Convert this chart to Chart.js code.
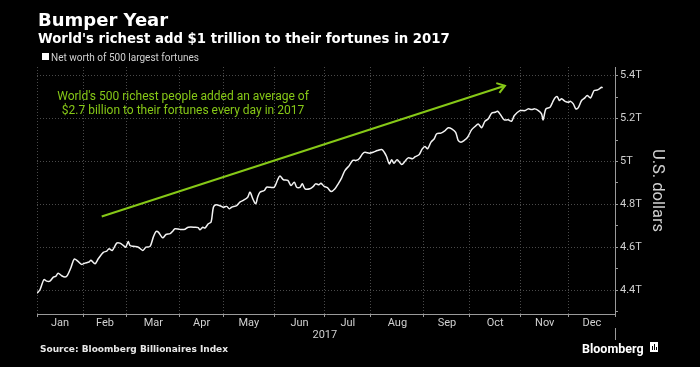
<!DOCTYPE html>
<html>
<head>
<meta charset="utf-8">
<script src="https://cdn.jsdelivr.net/npm/chart.js@4.4.0/dist/chart.umd.min.js"></script>
<style>
  html, body { margin: 0; padding: 0; background: #000; }
  #wrap { width: 700px; height: 367px; }
</style>
</head>
<body>
<div id="wrap"><canvas id="worthChart"></canvas></div>
<script>
// trading day of 2017 (0 = first trading day of Jan) and net worth in trillions USD
var tradingDay = [0, 1.3, 3.0, 4.2, 5.6, 7.1, 8.1, 9.2, 10.7, 12.2, 13.2, 14.8, 16.2, 17.7, 19.4, 20.8, 22.6, 23.4, 25.2, 26.6,
  28.8, 30.3, 31.3, 32.7, 34.6, 36.0, 37.5, 38.5, 39.6, 40.4, 41.8, 44.0, 45.9, 47.3, 49.1, 50.5, 51.7, 52.7, 54.6, 56.0,
  57.8, 59.2, 59.9, 62.1, 64.3, 65.7, 68.6, 70.0, 70.8, 72.0, 72.9, 74.4, 75.6, 76.6, 77.7, 79.5, 80.9, 82.4, 83.5, 84.5,
  86.7, 88.1, 89.6, 91.5, 92.5, 93.9, 95.0, 95.8, 96.8, 98.7, 99.7, 101.2, 103.0, 104.5, 105.5, 107.0, 108.9, 110.3, 111.7, 112.8,
  114.2, 115.2, 116.4, 118.5, 120.0, 121.0, 122.4, 123.3, 124.7, 126.1, 127.7, 129.4, 130.8, 132.3, 133.7, 135.6, 137.1, 138.5, 139.9, 141.4,
  142.4, 144.3, 146.0, 147.8, 149.7, 150.8, 151.8, 153.0, 154.0, 155.0, 156.4, 158.4, 159.8, 161.2, 163.1, 164.1, 166.0, 167.3, 168.5, 169.6,
  171.1, 172.5, 173.6, 175.4, 176.9, 178.6, 180.1, 181.8, 182.9, 184.1, 185.5, 187.0, 188.7, 190.2, 191.6, 193.1, 194.5, 196.0, 197.4, 198.9,
  200.0, 201.5, 202.9, 204.6, 206.1, 207.3, 209.7, 211.9, 213.3, 214.8, 216.2, 217.7, 219.1, 219.8, 221.0, 222.8, 223.9, 224.9, 225.9, 226.8,
  227.8, 229.3, 230.7, 231.7, 232.9, 234.0, 235.0, 236.5, 237.9, 238.9, 240.4, 241.9, 243.3, 244.2, 245.2, 245.6];

var netWorth = [4.387, 4.403, 4.450, 4.443, 4.443, 4.462, 4.465, 4.480, 4.468, 4.462, 4.470, 4.508, 4.546, 4.536, 4.521, 4.527, 4.532, 4.540, 4.524, 4.547,
  4.577, 4.583, 4.594, 4.586, 4.620, 4.620, 4.609, 4.601, 4.627, 4.609, 4.605, 4.601, 4.586, 4.601, 4.605, 4.648, 4.674, 4.671, 4.645, 4.660,
  4.664, 4.679, 4.687, 4.684, 4.685, 4.694, 4.694, 4.692, 4.682, 4.694, 4.690, 4.710, 4.718, 4.787, 4.799, 4.794, 4.787, 4.791, 4.780, 4.787,
  4.795, 4.811, 4.819, 4.834, 4.857, 4.822, 4.803, 4.834, 4.857, 4.865, 4.880, 4.880, 4.880, 4.915, 4.932, 4.915, 4.912, 4.888, 4.904, 4.880,
  4.880, 4.896, 4.873, 4.873, 4.884, 4.896, 4.892, 4.899, 4.884, 4.878, 4.860, 4.873, 4.896, 4.924, 4.958, 4.981, 5.005, 5.005, 5.013, 5.036,
  5.043, 5.039, 5.043, 5.051, 5.056, 5.043, 5.023, 4.989, 5.008, 4.992, 5.008, 4.986, 5.001, 5.017, 5.013, 5.021, 5.033, 5.059, 5.070, 5.059,
  5.090, 5.106, 5.129, 5.132, 5.141, 5.157, 5.152, 5.136, 5.098, 5.090, 5.098, 5.113, 5.147, 5.163, 5.175, 5.157, 5.187, 5.199, 5.225, 5.229,
  5.234, 5.214, 5.194, 5.194, 5.188, 5.214, 5.237, 5.237, 5.245, 5.242, 5.245, 5.237, 5.222, 5.194, 5.245, 5.253, 5.276, 5.296, 5.302, 5.284,
  5.292, 5.280, 5.276, 5.280, 5.268, 5.245, 5.250, 5.284, 5.296, 5.307, 5.296, 5.330, 5.333, 5.338, 5.346, 5.343];

// month boundaries in trading days, and month names
var monthStarts = [0, 20, 39, 62, 81, 103, 125, 145, 168, 188, 210, 231, 251];
var monthLabels = ['Jan', 'Feb', 'Mar', 'Apr', 'May', 'Jun', 'Jul', 'Aug', 'Sep', 'Oct', 'Nov', 'Dec'];

// y ticks (trillions), labels only on every other one
var yTicks = [4.3, 4.4, 4.5, 4.6, 4.7, 4.8, 4.9, 5.0, 5.1, 5.2, 5.3, 5.4];

// trend arrow, start and end
var arrowDay = [28.1, 203.2];
var arrowWorth = [4.744, 5.353];

var green = '#86c817';
var gridCol = '#4a4a4a';
var axisCol = '#9a9a9a';
var textCol = '#d0d0d0';
var narrow = '"Liberation Sans Narrow", Roboto, sans-serif';

var isMajorY = function (v) { return Math.round(v * 10) % 2 === 0; };
var isBoundary = function (v) { return monthStarts.indexOf(v) !== -1; };

var points = tradingDay.map(function (d, i) { return { x: d, y: netWorth[i] }; });
var arrowPts = arrowDay.map(function (d, i) { return { x: d, y: arrowWorth[i] }; });

var textPlugin = {
  id: 'bbgText',
  afterDraw: function (chart) {
    var ctx = chart.ctx;
    var area = chart.chartArea;
    ctx.save();
    ctx.textBaseline = 'alphabetic';
    ctx.textAlign = 'left';

    ctx.fillStyle = '#fff';
    ctx.font = 'bold 18px "DejaVu Sans"';
    ctx.fillText('Bumper Year', 38, 26);
    ctx.font = 'bold 13.3px "DejaVu Sans"';
    ctx.fillText("World's richest add $1 trillion to their fortunes in 2017", 38, 43);

    // legend
    ctx.fillRect(42, 53, 7, 7);
    ctx.fillStyle = textCol;
    ctx.font = '10px ' + narrow;
    ctx.fillText('Net worth of 500 largest fortunes', 51, 61);

    // annotation
    ctx.fillStyle = green;
    ctx.font = '12px ' + narrow;
    ctx.textAlign = 'center';
    ctx.fillText("World's 500 richest people added an average of", 183, 100);
    ctx.fillText('$2.7 billion to their fortunes every day in 2017', 183, 114);

    // year under axis
    var xs = chart.scales.x;
    ctx.fillStyle = textCol;
    ctx.font = '11px ' + narrow;
    ctx.fillText('2017', xs.getPixelForValue(monthStarts[6]), 338);

    // footer
    ctx.textAlign = 'left';
    ctx.fillStyle = '#e8e8e8';
    ctx.font = 'bold 9px "DejaVu Sans"';
    ctx.fillText('Source: Bloomberg Billionaires Index', 40, 352);

    ctx.fillStyle = '#fff';
    ctx.font = 'bold 12.5px ' + narrow;
    ctx.fillText('Bloomberg', 582, 353);
    ctx.fillRect(650, 342, 8, 10);
    ctx.fillStyle = '#000';
    ctx.fillRect(652, 346, 1, 4);
    ctx.fillRect(654, 344, 1, 6);
    ctx.fillRect(656, 347, 1, 3);

    ctx.strokeStyle = axisCol;
    ctx.lineWidth = 1;
    ctx.beginPath();
    ctx.moveTo(area.right + 0.5, 328);
    ctx.lineTo(area.right + 0.5, 340);
    ctx.stroke();

    // arrow head on the trend line
    var meta = chart.getDatasetMeta(1);
    var p0 = meta.data[0], p1 = meta.data[1];
    var ang = Math.atan2(p1.y - p0.y, p1.x - p0.x);
    ctx.strokeStyle = green;
    ctx.lineWidth = 2;
    ctx.beginPath();
    ctx.moveTo(p1.x - 9 * Math.cos(ang - 0.6), p1.y - 9 * Math.sin(ang - 0.6));
    ctx.lineTo(p1.x, p1.y);
    ctx.lineTo(p1.x - 9 * Math.cos(ang + 0.6), p1.y - 9 * Math.sin(ang + 0.6));
    ctx.stroke();
    ctx.restore();
  }
};

new Chart(document.getElementById('worthChart'), {
  type: 'line',
  data: {
    datasets: [{
      label: 'Net worth of 500 largest fortunes',
      data: points,
      borderColor: '#f2f2f2',
      borderWidth: 1.5,
      pointRadius: 0,
      tension: 0.3
    }, {
      label: 'trend',
      data: arrowPts,
      borderColor: green,
      borderWidth: 2,
      pointRadius: 0
    }]
  },
  options: {
    responsive: true,
    maintainAspectRatio: false,
    animation: false,
    layout: { padding: { left: 37, right: 33, top: 67, bottom: 31 } },
    plugins: { legend: { display: false }, tooltip: { enabled: false } },
    scales: {
      x: {
        type: 'linear',
        min: 0,
        max: 251,
        afterBuildTicks: function (s) {
          var t = [];
          monthStarts.forEach(function (m) { t.push({ value: m }); });
          for (var i = 0; i < 12; i++) t.push({ value: (monthStarts[i] + monthStarts[i + 1]) / 2 });
          s.ticks = t.sort(function (a, b) { return a.value - b.value; });
        },
        afterFit: function (s) { s.height = 22; },
        ticks: {
          autoSkip: false,
          maxRotation: 0,
          padding: 0,
          color: textCol,
          font: { family: narrow, size: 11 },
          callback: function (v) {
            for (var i = 0; i < 12; i++) {
              if (Math.abs(v - (monthStarts[i] + monthStarts[i + 1]) / 2) < 0.01) return monthLabels[i];
            }
            return '';
          }
        },
        grid: {
          color: function (c) { return c.tick && isBoundary(c.tick.value) ? gridCol : 'rgba(0,0,0,0)'; },
          tickColor: function (c) { return c.tick && isBoundary(c.tick.value) ? axisCol : 'rgba(0,0,0,0)'; },
          tickLength: 3
        },
        border: { color: axisCol, dash: [1, 2] }
      },
      y: {
        position: 'right',
        min: 4.29,
        max: 5.44,
        afterBuildTicks: function (s) {
          s.ticks = yTicks.map(function (v) { return { value: v }; });
        },
        afterFit: function (s) { s.width = 52; },
        ticks: {
          autoSkip: false,
          padding: 2,
          color: textCol,
          font: { family: narrow, size: 11 },
          callback: function (v) {
            if (!isMajorY(v)) return '';
            return (Math.round(v * 10) / 10) + 'T';
          }
        },
        grid: {
          color: function (c) { return c.tick && isMajorY(c.tick.value) ? gridCol : 'rgba(0,0,0,0)'; },
          tickColor: axisCol,
          tickLength: 3
        },
        border: { color: axisCol, dash: [1, 2] },
        title: {
          display: true,
          text: 'U.S. dollars',
          color: textCol,
          padding: 0,
          font: { family: narrow, size: 16.5 }
        }
      }
    }
  },
  plugins: [textPlugin]
});
</script>
</body>
</html>
